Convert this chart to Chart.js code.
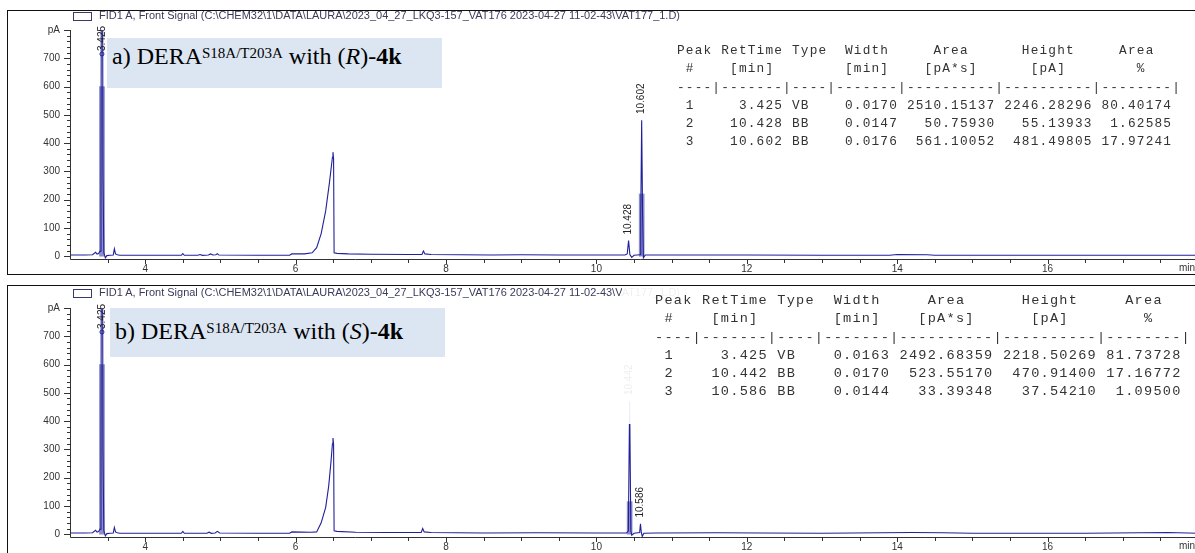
<!DOCTYPE html>
<html><head><meta charset="utf-8">
<script src="https://cdn.jsdelivr.net/npm/chart.js@4.4.1/dist/chart.umd.min.js"></script>
<style>
html,body{margin:0;padding:0;background:#fff;}
body{width:1195px;height:553px;overflow:hidden;position:relative;font-family:"Liberation Sans",Arial,sans-serif;}
.panel{position:absolute;left:7px;width:1215px;border:1.5px solid #111;box-sizing:border-box;}
canvas{position:absolute;left:0;}
.hdr{position:absolute;left:99px;font-size:10px;line-height:10px;color:#3a3a5a;white-space:nowrap;transform-origin:0 50%;}
.icon{position:absolute;left:73px;width:17px;height:7px;border:1px solid #3a3a6a;}
.lbl{position:absolute;background:#dce6f2;font-family:"Liberation Serif","Times New Roman",serif;font-size:24px;line-height:24px;color:#000;white-space:nowrap;}
.lbl .t{position:absolute;left:5px;}
.lbl sup{font-size:15px;vertical-align:baseline;position:relative;top:-6px;}
pre.tbl{position:absolute;margin:0;font-family:"Liberation Mono","Courier New",monospace;font-size:13px;letter-spacing:1.2px;line-height:18.3px;color:#333;transform-origin:0 0;}
.ov{position:absolute;background:rgba(255,255,255,0.92);}
</style></head>
<body>
<div class="panel" style="top:10px;height:265px"></div>
<div class="panel" style="top:285px;height:280px"></div>
<canvas id="c1" width="1210" height="280" style="top:0"></canvas>
<canvas id="c2" width="1210" height="280" style="top:278px"></canvas>

<div class="icon" style="top:12px"></div>
<div class="hdr" id="h1" style="top:11px"></div>
<div class="icon" style="top:289px"></div>
<div class="hdr" id="h2" style="top:288px"></div>

<div class="lbl" style="left:107px;top:38px;width:335px;height:50px"><span class="t" style="top:6px">a) DERA<sup>S18A/T203A</sup> with (<i>R</i>)-<b>4k</b></span></div>
<div class="lbl" style="left:110px;top:308px;width:335px;height:49px"><span class="t" style="top:11px">b) DERA<sup>S18A/T203A</sup> with (<i>S</i>)-<b>4k</b></span></div>

<div class="ov" style="left:622px;top:287px;width:600px;height:137px"></div>
<pre class="tbl" id="t1" style="left:677px;top:42px"></pre>
<pre class="tbl" id="t2" style="left:655px;top:292px"></pre>

<script>
// ---------------- data ----------------
const xTickValues = [4, 6, 8, 10, 12, 14, 16];
const yTickValues = [0, 100, 200, 300, 400, 500, 600, 700, 800];
const yTopLabel = 'pA';
const xUnitLabel = 'min';
const headerText = 'FID1 A, Front Signal (C:\\CHEM32\\1\\DATA\\LAURA\\2023_04_27_LKQ3-157_VAT176 2023-04-27 11-02-43\\VAT177_1.D)';

// trace a) (R)-4k : retention time [min], signal [pA]
const timeR = [3.00, 3.20, 3.30, 3.34, 3.36, 3.38, 3.40, 3.412, 3.425, 3.438, 3.45, 3.47, 3.49, 3.53, 3.575, 3.59, 3.605, 3.63, 3.66, 3.80,
  4.40, 4.48, 4.50, 4.52, 4.70, 4.73, 4.76, 4.84, 4.87, 4.90, 4.94, 4.96, 4.98, 5.50, 5.92, 5.95, 6.12, 6.22, 6.28, 6.34,
  6.40, 6.45, 6.49, 6.497, 6.505, 6.512, 6.55, 6.70, 7.00, 7.50, 7.68, 7.70, 7.72, 7.80, 8.20, 8.60, 9.00, 9.50, 10.00, 10.38,
  10.41, 10.428, 10.445, 10.47, 10.50, 10.58, 10.59, 10.602, 10.614, 10.625, 10.65, 10.80, 11.50, 12.00, 13.00, 13.90, 14.00, 14.40, 14.50, 15.00,
  16.00, 17.00, 18.00];
const signalR = [4, 4, 5, 14, 7, 9, 18, 300, 2246, 300, 12, -6, 2, 3, 4, 26, 8, 5, 3, 3,
  3, 3, 9, 3, 3, 6, 3, 4, 8, 4, 5, 9, 4, 3, 3, 8, 8, 12, 30, 80,
  160, 260, 350, 368, 345, 12, 10, 8, 7, 6, 6, 18, 8, 6, 5, 4, 5, 4, 4, 4,
  8, 55, 6, -4, 3, 5, 150, 481, 150, -6, 4, 4, 4, 4, 3, 3, 6, 5, 3, 3,
  3, 3, 3];

// trace b) (S)-4k
const timeS = [3.00, 3.20, 3.30, 3.34, 3.36, 3.38, 3.40, 3.412, 3.425, 3.438, 3.45, 3.47, 3.49, 3.53, 3.575, 3.59, 3.605, 3.63, 3.66, 3.80,
  4.40, 4.48, 4.50, 4.52, 4.82, 4.85, 4.88, 4.93, 4.96, 4.99, 5.50, 5.92, 5.95, 6.20, 6.28, 6.34, 6.40, 6.44, 6.47, 6.49,
  6.497, 6.505, 6.512, 6.55, 6.80, 7.20, 7.67, 7.69, 7.71, 7.80, 8.50, 9.20, 10.00, 10.40, 10.425, 10.442, 10.458, 10.47, 10.50, 10.575,
  10.586, 10.597, 10.61, 10.63, 10.80, 11.60, 12.20, 13.00, 14.20, 14.60, 15.00, 16.50, 17.60, 18.00];
const signalS = [4, 4, 5, 14, 7, 9, 18, 300, 2218, 300, 12, -6, 2, 3, 4, 24, 8, 5, 3, 3,
  3, 3, 10, 3, 3, 7, 3, 4, 10, 4, 3, 3, 8, 7, 8, 40, 95, 170, 255, 320,
  340, 318, 12, 10, 7, 6, 6, 20, 8, 6, 4, 5, 4, 4, 12, 471, 12, -4, 3, 6,
  37, 6, -8, 3, 4, 5, 4, 3, 6, 5, 3, 3, 6, 3];

// lighter lower body of the tall peaks
const bandTimeR = [3.425, 10.602];
const bandTopR = [600, 220];
const bandTimeS = [3.425, 10.442];
const bandTopS = [600, 115];

// peak tables
const peakNoR = [1, 2, 3];
const retTimeR = [3.425, 10.428, 10.602];
const typeR = ['VB', 'BB', 'BB'];
const widthR = [0.0170, 0.0147, 0.0176];
const areaR = [2510.15137, 50.75930, 561.10052];
const heightR = [2246.28296, 55.13933, 481.49805];
const areaPctR = [80.40174, 1.62585, 17.97241];

const peakNoS = [1, 2, 3];
const retTimeS = [3.425, 10.442, 10.586];
const typeS = ['VB', 'BB', 'BB'];
const widthS = [0.0163, 0.0170, 0.0144];
const areaS = [2492.68359, 523.55170, 33.39348];
const heightS = [2218.50269, 470.91400, 37.54210];
const areaPctS = [81.73728, 17.16772, 1.09500];

const tableHead = ['Peak RetTime Type  Width     Area      Height     Area',
                   ' #    [min]        [min]    [pA*s]      [pA]        %',
                   '----|-------|----|-------|----------|----------|--------|'];

// ---------------- rendering ----------------
const FONT = '"Liberation Sans", Arial, sans-serif';

function tableText(no, rt, ty, w, ar, h, pct) {
  const rows = no.map((n, i) =>
    String(n).padStart(2).padEnd(4) + rt[i].toFixed(3).padStart(8) + ' ' + ty[i].padEnd(4) + ' ' +
    w[i].toFixed(4).padStart(7) + ' ' + ar[i].toFixed(5).padStart(10) + ' ' +
    h[i].toFixed(5).padStart(10) + ' ' + pct[i].toFixed(5).padStart(8));
  return tableHead.concat(rows).join('\n');
}

function fitWidth(el, target) {
  el.style.transform = 'none';
  const w = el.getBoundingClientRect().width;
  el.style.transform = 'scaleX(' + (target / w) + ')';
}

const chemAxes = {
  id: 'chemAxes',
  afterDraw(chart) {
    const o = chart.options.plugins.chemAxes;
    const { ctx, chartArea: a, scales: { x, y } } = chart;
    ctx.save();
    ctx.strokeStyle = '#333';
    ctx.lineWidth = 1;
    ctx.beginPath();
    ctx.moveTo(a.left + 0.5, a.top);
    ctx.lineTo(a.left + 0.5, a.bottom + 0.5);
    ctx.lineTo(a.right + 20, a.bottom + 0.5);
    ctx.stroke();
    ctx.beginPath();
    for (let v = 0; v <= y.max; v += 20) {
      const py = Math.round(y.getPixelForValue(v)) + 0.5;
      const len = v % 100 === 0 ? 6 : 3;
      ctx.moveTo(a.left - len, py); ctx.lineTo(a.left, py);
    }
    for (let t = 3.5; t < x.max; t += 0.5) {
      const px = Math.round(x.getPixelForValue(t)) + 0.5;
      const len = Number.isInteger(t / 2) ? 5 : 4;
      ctx.moveTo(px, a.bottom); ctx.lineTo(px, a.bottom + len);
    }
    ctx.stroke();
    ctx.fillStyle = '#333';
    ctx.font = '10px ' + FONT;
    ctx.textBaseline = 'top';
    ctx.textAlign = 'left';
    ctx.fillText(xUnitLabel, a.right - 19, a.bottom + 4);
    ctx.font = '10px ' + FONT;
    ctx.fillStyle = '#222';
    o.times.forEach((t, i) => {
      const px = x.getPixelForValue(t);
      const off = o.heights[i] > y.max;
      const py = off ? a.top + 21 : y.getPixelForValue(o.heights[i]) - 6;
      ctx.save();
      ctx.translate(px, py);
      ctx.rotate(-Math.PI / 2);
      ctx.textAlign = 'left';
      ctx.textBaseline = 'middle';
      ctx.fillText(t.toFixed(3), 0, 0);
      ctx.restore();
      if (off) {
        ctx.beginPath();
        ctx.strokeStyle = '#20209a';
        ctx.arc(px, py + 3, 2, 0, Math.PI * 2);
        ctx.stroke();
      }
    });
    ctx.restore();
  }
};

function makeChart(id, times, signals, bandTimes, bandTops, pkTimes, pkHeights) {
  return new Chart(document.getElementById(id), {
    type: 'line',
    data: {
      datasets: [
        { type: 'bar', data: bandTimes.map((t, i) => ({ x: t, y: bandTops[i] })),
          backgroundColor: '#8c8cc8', barThickness: 5, order: 2 },
        { type: 'line', data: times.map((t, i) => ({ x: t, y: signals[i] })),
          borderColor: '#20209a', borderWidth: 1.1, pointRadius: 0, tension: 0, fill: false, order: 1 }
      ]
    },
    options: {
      responsive: false, animation: false, devicePixelRatio: 1,
      layout: { padding: { top: 30, right: 12, left: 0, bottom: 0 } },
      plugins: { legend: { display: false }, tooltip: { enabled: false },
        chemAxes: { times: pkTimes, heights: pkHeights } },
      scales: {
        x: { type: 'linear', min: 3, max: 18, offset: false,
          grid: { display: false, drawTicks: false }, border: { display: false },
          afterBuildTicks: s => { s.ticks = xTickValues.map(v => ({ value: v })); },
          afterFit: s => { s.height = 21; },
          ticks: { padding: 4, maxRotation: 0, autoSkip: false, color: '#333', font: { family: FONT, size: 10 } } },
        y: { type: 'linear', min: -10, max: 800,
          grid: { display: false, drawTicks: false }, border: { display: false },
          afterBuildTicks: s => { s.ticks = yTickValues.map(v => ({ value: v })); },
          afterFit: s => { s.width = 70; },
          ticks: { padding: 10, color: '#333', font: { family: FONT, size: 10 },
            callback: v => v === yTickValues[yTickValues.length - 1] ? yTopLabel : String(v) } }
      }
    },
    plugins: [chemAxes]
  });
}

makeChart('c1', timeR, signalR, bandTimeR, bandTopR, retTimeR, heightR);
makeChart('c2', timeS, signalS, bandTimeS, bandTopS, retTimeS, heightS);

const h1 = document.getElementById('h1'), h2 = document.getElementById('h2');
h1.textContent = headerText; h2.textContent = headerText;
fitWidth(h1, 581); fitWidth(h2, 581);

const t1 = document.getElementById('t1'), t2 = document.getElementById('t2');
t1.textContent = tableText(peakNoR, retTimeR, typeR, widthR, areaR, heightR, areaPctR);
t2.textContent = tableText(peakNoS, retTimeS, typeS, widthS, areaS, heightS, areaPctS);
fitWidth(t1, 504); fitWidth(t2, 536);
</script>
</body></html>
